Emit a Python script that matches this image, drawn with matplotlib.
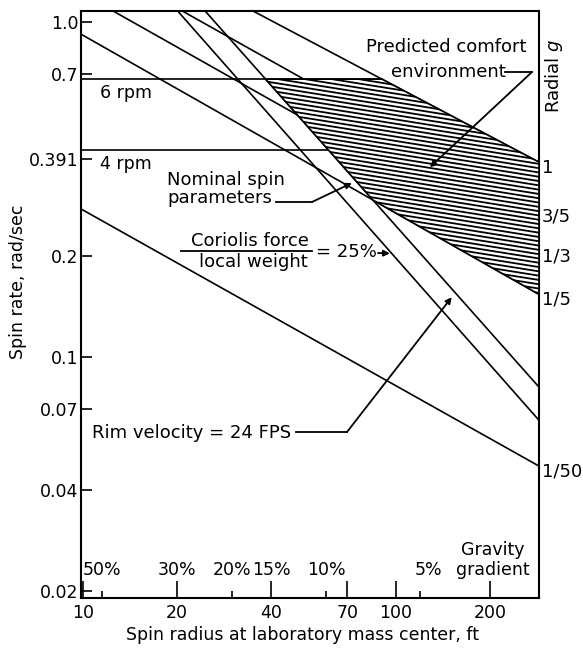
import numpy as np
import matplotlib.pyplot as plt
from matplotlib.patches import Polygon
from matplotlib.collections import LineCollection
from matplotlib.ticker import FixedLocator, FixedFormatter, NullLocator, NullFormatter

W, H = 583, 652

# radial g lines, read at both ends (spin radius ft, spin rate rad/sec)
g_labels = ['1', '3/5', '1/3', '1/5', '1/50']
g_r0 = [35.0, 20.8, 12.5, 9.87, 9.87]
g_w0 = [1.08, 1.08, 1.08, 0.921, 0.277]
g_r1 = [287, 287, 287, 287, 287]
g_w1 = [0.382, 0.273, 0.207, 0.154, 0.0473]

# rim velocity = 24 FPS line and coriolis/weight = 25% line
rim_r = [24.6, 287]
rim_w = [1.08, 0.0814]
cor_r = [20.1, 287]
cor_w = [1.08, 0.0648]

# constant spin lines
rpm_labels = ['6 rpm', '4 rpm']
rpm_w = [0.676, 0.415]

x_ticks = [10, 20, 40, 70, 100, 200]
y_ticks = [0.02, 0.04, 0.07, 0.1, 0.2, 0.391, 0.7, 1.0]
y_ticklabels = ['0.02', '0.04', '0.07', '0.1', '0.2', '0.391', '0.7', '1.0']
grad_r = [11.5, 20, 30, 40, 60, 120]
grad_labels = ['50%', '30%', '20%', '15%', '10%', '5%']
grad_minor = [11.5, 30, 60, 120]

XMIN, XMAX = 9.87, 287
YMIN, YMAX = 0.0191, 1.08


def logline(r, w):
    lr, lw = np.log10(r), np.log10(w)
    b = (lw[1] - lw[0]) / (lr[1] - lr[0])
    return lw[0] - b * lr[0], b


def cross(l1, l2):
    lr = (l2[0] - l1[0]) / (l1[1] - l2[1])
    return 10 ** lr, 10 ** (l1[0] + l1[1] * lr)


def at_r(l, r):
    return 10 ** (l[0] + l[1] * np.log10(r))


def fx(x):
    return x / W


def fy(y):
    return 1 - y / H


plt.rcParams['font.family'] = 'DejaVu Sans'
FS = 12.5
FA = 13

fig = plt.figure(figsize=(W / 100, H / 100), dpi=100)
ax = fig.add_axes([fx(81), fy(598), (539 - 81) / W, (598 - 11) / H])
ax.set_xscale('log')
ax.set_yscale('log')
ax.set_xlim(XMIN, XMAX)
ax.set_ylim(YMIN, YMAX)

lw = 1.2
for i in range(len(g_labels)):
    ax.plot([g_r0[i], g_r1[i]], [g_w0[i], g_w1[i]], color='black', lw=lw, zorder=2)
    ax.annotate(g_labels[i], xy=(1.0, g_w1[i]), xycoords=('axes fraction', 'data'),
                xytext=(2, -4), textcoords='offset points', fontsize=FA,
                ha='left', va='center', annotation_clip=False)
ax.plot(rim_r, rim_w, color='black', lw=lw, zorder=2)
ax.plot(cor_r, cor_w, color='black', lw=lw, zorder=2)

rim = logline(rim_r, rim_w)
g1 = logline([g_r0[0], g_r1[0]], [g_w0[0], g_w1[0]])
g5 = logline([g_r0[3], g_r1[3]], [g_w0[3], g_w1[3]])
rpm6 = (np.log10(rpm_w[0]), 0.0)
rpm4 = (np.log10(rpm_w[1]), 0.0)

r6_end, _ = cross(rpm6, g1)
r4_end, _ = cross(rpm4, rim)
ax.plot([XMIN, r6_end], [rpm_w[0]] * 2, color='black', lw=lw, zorder=2)
ax.plot([XMIN, r4_end], [rpm_w[1]] * 2, color='black', lw=lw, zorder=2)

# predicted comfort environment, shaded with shallow slanted strokes
p1 = cross(rpm6, rim)
p2 = cross(rpm6, g1)
p3 = (XMAX, at_r(g1, XMAX))
p4 = (XMAX, at_r(g5, XMAX))
p5 = cross(g5, rim)
poly = Polygon([p1, p2, p3, p4, p5], closed=True, facecolor='white',
               edgecolor='black', lw=lw, zorder=3)
ax.add_patch(poly)
ax_w, ax_h = 539 - 81, 598 - 11
slope = 0.16 * ax_w / ax_h
step = 4.3 / ax_h
segs = [[(0, c), (1, c - slope)] for c in np.arange(0, 1.3, step)]
hatch = LineCollection(segs, colors='black', linewidths=1.3,
                       transform=ax.transAxes, zorder=3.5)
hatch.set_clip_path(poly)
ax.add_collection(hatch)

# axes and ticks
for s in ax.spines.values():
    s.set_linewidth(1.5)
ax.xaxis.set_major_locator(FixedLocator(x_ticks))
ax.xaxis.set_major_formatter(FixedFormatter([str(v) for v in x_ticks]))
ax.xaxis.set_minor_locator(FixedLocator(grad_minor))
ax.xaxis.set_minor_formatter(NullFormatter())
ax.yaxis.set_major_locator(FixedLocator(y_ticks))
ax.yaxis.set_major_formatter(FixedFormatter(y_ticklabels))
ax.yaxis.set_minor_locator(NullLocator())
ax.tick_params(axis='x', which='major', direction='in', length=12, width=1.2,
               labelsize=FS, pad=4)
ax.tick_params(axis='x', which='minor', direction='in', length=5, width=1.2)
ax.tick_params(axis='y', which='major', direction='in', length=8, width=1.2,
               labelsize=FS, pad=2)
ax.set_xlabel('Spin radius at laboratory mass center, ft', fontsize=FS, labelpad=3)
ax.set_ylabel('Spin rate, rad/sec', fontsize=FS, labelpad=1)
ax.xaxis.label.set_x((302 - 81) / ax_w)
ax.yaxis.label.set_y((598 - 282) / ax_h)

for r, t in zip(grad_r, grad_labels):
    dx = 8 if t == '5%' else 0
    ax.annotate(t, xy=(r, 0), xycoords=('data', 'axes fraction'), xytext=(dx, 28),
                textcoords='offset pixels', ha='center', va='center', fontsize=FS)
fig.text(fx(493), fy(560), 'Gravity\ngradient', ha='center', va='center',
         fontsize=FS, linespacing=1.1)

fig.text(fx(554), fy(76), 'Radial $g$', rotation=90, ha='center', va='center',
         fontsize=FA)

fig.text(fx(100), fy(93), rpm_labels[0], ha='left', va='center', fontsize=FS)
fig.text(fx(100), fy(164), rpm_labels[1], ha='left', va='center', fontsize=FS)

# annotations
arrow = dict(arrowstyle='-|>', mutation_scale=9, lw=1.3, color='black',
             shrinkA=0, shrinkB=0)
lead = dict(color='black', lw=1.3, transform=fig.transFigure)

fig.text(fx(167), fy(189), 'Nominal spin\nparameters', ha='left', va='center',
         fontsize=FA, linespacing=1.05)
fig.add_artist(plt.Line2D([fx(276), fx(312)], [fy(202), fy(202)], **lead))
ax.annotate('', xy=(72.4, 0.331), xytext=(fx(312), fy(202)),
            textcoords='figure fraction', arrowprops=arrow)

fig.text(fx(250), fy(241), 'Coriolis force', ha='center', va='center', fontsize=FA)
fig.text(fx(253), fy(262), 'local weight', ha='center', va='center', fontsize=FA)
fig.add_artist(plt.Line2D([fx(181), fx(312)], [fy(251), fy(251)], **lead))
fig.text(fx(316), fy(252), '= 25%', ha='left', va='center', fontsize=FA)
ax.annotate('', xy=(95.8, 0.204), xytext=(fx(378), fy(253)),
            textcoords='figure fraction', arrowprops=arrow)

fig.text(fx(92), fy(433), 'Rim velocity = 24 FPS', ha='left', va='center', fontsize=FA)
fig.add_artist(plt.Line2D([fx(296), fx(347)], [fy(432), fy(432)], **lead))
ax.annotate('', xy=(151, 0.151), xytext=(fx(347), fy(432)),
            textcoords='figure fraction', arrowprops=arrow)

fig.text(fx(446), fy(47), 'Predicted comfort', ha='center', va='center', fontsize=FA)
fig.text(fx(448), fy(72), 'environment', ha='center', va='center', fontsize=FA)
fig.add_artist(plt.Line2D([fx(505), fx(532)], [fy(72), fy(72)], **lead))
ax.annotate('', xy=(128.6, 0.369), xytext=(fx(532), fy(72)),
            textcoords='figure fraction', arrowprops=arrow, zorder=5)

fig.savefig('out.png', dpi=100)
